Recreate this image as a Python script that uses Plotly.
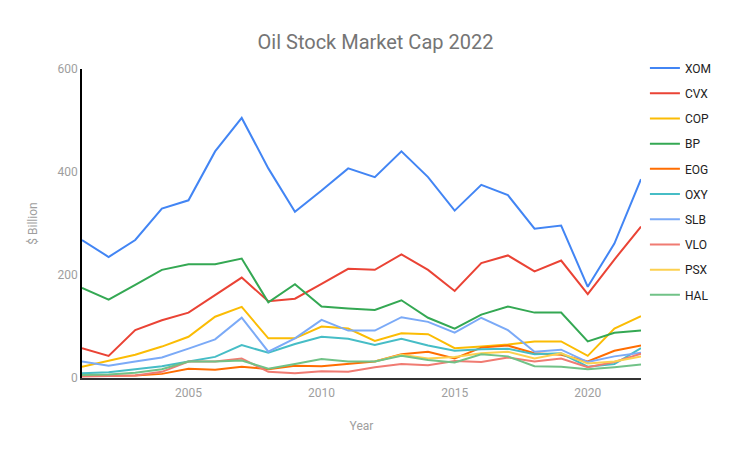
import plotly.graph_objects as go

years = list(range(2001, 2023))
psx_years = list(range(2012, 2023))

XOM = [268, 235, 268, 329, 345, 440, 505, 407, 323, 364, 407, 390, 440, 390, 325, 375, 355, 290, 296, 177, 261, 386]
CVX = [58, 43, 93, 112, 127, 161, 195, 149, 154, 183, 212, 210, 240, 210, 169, 223, 238, 207, 228, 163, 230, 294]
COP = [22, 33, 45, 61, 80, 119, 138, 77, 77, 100, 96, 72, 87, 85, 58, 61, 65, 71, 71, 43, 96, 120]
BP = [175, 152, 181, 210, 221, 221, 232, 147, 182, 139, 135, 132, 151, 117, 96, 123, 139, 127, 127, 71, 88, 92]
EOG = [4, 4, 5, 8, 18, 16, 22, 17, 24, 23, 27, 32, 46, 51, 38, 59, 63, 48, 45, 32, 53, 63]
OXY = [9, 11, 17, 23, 32, 41, 64, 49, 66, 80, 76, 64, 76, 63, 53, 56, 57, 46, 48, 22, 27, 58]
SLB = [32, 24, 32, 40, 57, 75, 117, 51, 77, 113, 92, 92, 118, 109, 88, 117, 93, 51, 55, 31, 42, 49]
VLO = [3, 4, 5, 12, 32, 32, 38, 12, 9, 13, 12, 21, 27, 25, 33, 31, 40, 32, 38, 21, 31, 47]
PSX = [32, 45, 38, 41, 48, 51, 38, 48, 28, 32, 42]
HAL = [6, 7, 10, 17, 32, 32, 34, 18, 27, 37, 32, 32, 43, 35, 30, 46, 42, 23, 22, 17, 21, 26]

series = [
    ("XOM", years, XOM, "#4285F4"),
    ("CVX", years, CVX, "#EA4335"),
    ("COP", years, COP, "#FBBC04"),
    ("BP", years, BP, "#34A853"),
    ("EOG", years, EOG, "#FF6D01"),
    ("OXY", years, OXY, "#46BDC6"),
    ("SLB", years, SLB, "#7BAAF7"),
    ("VLO", years, VLO, "#F07B72"),
    ("PSX", psx_years, PSX, "#FCD04F"),
    ("HAL", years, HAL, "#71C287"),
]

fig = go.Figure()
for name, xs, ys, color in series:
    fig.add_trace(go.Scatter(x=xs, y=ys, mode="lines", name=name, legendgroup=name,
                             line=dict(color=color, width=2)))

fig.update_layout(
    width=735, height=455,
    margin=dict(l=74, r=102, t=61, b=85),
    paper_bgcolor="white", plot_bgcolor="white",
    font=dict(family="Roboto", color="#9e9e9e", size=12),
    title=dict(text="Oil Stock Market Cap 2022", x=0.5, xanchor="center", y=0.925, yanchor="middle",
               font=dict(family="Roboto", size=20, color="#757575")),
    legend=dict(x=1.007, xanchor="left", y=1.05, yanchor="top", traceorder="grouped",
                tracegroupgap=6.2, itemwidth=30, maxheight=420,
                font=dict(size=12, color="#222222")),
    xaxis=dict(range=[2001, 2022], tickvals=[2005, 2010, 2015, 2020], showgrid=False,
               zeroline=False, showline=True, linecolor="#333333", linewidth=1.5,
               ticklabelstandoff=3,
               title=dict(text="Year", standoff=22, font=dict(size=12, color="#9e9e9e")),
               tickfont=dict(size=12, color="#9e9e9e")),
    yaxis=dict(range=[0, 600], tickvals=[0, 200, 400, 600], showgrid=False, zeroline=False,
               showline=True, linecolor="#000000", linewidth=1.5, ticks="",
               title=dict(text="$ Billion", standoff=17, font=dict(size=12, color="#9e9e9e")),
               tickfont=dict(size=12, color="#9e9e9e")),
)

fig.write_html("out.html")
